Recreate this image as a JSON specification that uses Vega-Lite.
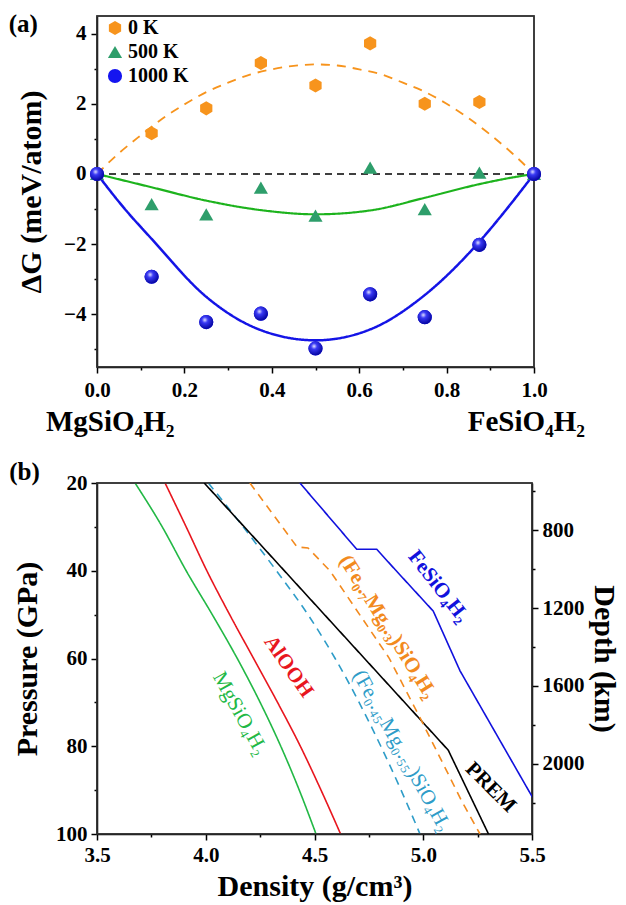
{
  "$schema": "https://vega.github.io/schema/vega-lite/v6.json",
  "padding": {"left": 7, "top": 10, "right": 5, "bottom": 3},
  "spacing": 21,
  "resolve": {"scale": {"color": "independent", "stroke": "independent", "strokeDash": "independent", "strokeWidth": "independent", "shape": "independent"}, "legend": {"color": "independent", "shape": "independent"}},
  "config": {
    "font": "Liberation Serif",
    "view": {"stroke": "#333333", "strokeWidth": 1.5},
    "axis": {
      "grid": false, "domainColor": "#000000", "domainWidth": 1.5, "tickColor": "#000000", "tickWidth": 1.5,
      "labelFont": "Liberation Serif", "labelFontWeight": "bold", "labelFontSize": 21, "labelColor": "#000000",
      "titleFont": "Liberation Serif", "titleFontWeight": "bold", "titleFontSize": 30, "titleColor": "#000000"
    }
  },
  "vconcat": [
    {
      "width": 437,
      "height": 351,
      "resolve": {"axis": {"x": "independent", "y": "independent"}},
      "layer": [
        {
          "data": {"values": [
            {"x": 0, "dG": 0, "T": "ref"}, {"x": 1, "dG": 0, "T": "ref"},
            {"x": 0, "dG": 0, "T": "0 K"}, {"x": 0.05, "dG": 0.59, "T": "0 K"}, {"x": 0.1, "dG": 1.1, "T": "0 K"}, {"x": 0.15, "dG": 1.58, "T": "0 K"}, {"x": 0.2, "dG": 1.98, "T": "0 K"}, {"x": 0.25, "dG": 2.33, "T": "0 K"}, {"x": 0.3, "dG": 2.6, "T": "0 K"}, {"x": 0.35, "dG": 2.83, "T": "0 K"}, {"x": 0.4, "dG": 2.98, "T": "0 K"}, {"x": 0.45, "dG": 3.08, "T": "0 K"}, {"x": 0.5, "dG": 3.12, "T": "0 K"}, {"x": 0.55, "dG": 3.09, "T": "0 K"}, {"x": 0.6, "dG": 2.98, "T": "0 K"}, {"x": 0.65, "dG": 2.84, "T": "0 K"}, {"x": 0.7, "dG": 2.6, "T": "0 K"}, {"x": 0.75, "dG": 2.34, "T": "0 K"}, {"x": 0.8, "dG": 2.0, "T": "0 K"}, {"x": 0.85, "dG": 1.59, "T": "0 K"}, {"x": 0.9, "dG": 1.12, "T": "0 K"}, {"x": 0.95, "dG": 0.59, "T": "0 K"}, {"x": 1.0, "dG": 0, "T": "0 K"},
            {"x": 0, "dG": 0, "T": "500 K"}, {"x": 0.0625, "dG": -0.19, "T": "500 K"}, {"x": 0.125, "dG": -0.38, "T": "500 K"}, {"x": 0.25, "dG": -0.76, "T": "500 K"}, {"x": 0.375, "dG": -1.03, "T": "500 K"}, {"x": 0.5, "dG": -1.15, "T": "500 K"}, {"x": 0.625, "dG": -1.04, "T": "500 K"}, {"x": 0.75, "dG": -0.68, "T": "500 K"}, {"x": 0.875, "dG": -0.29, "T": "500 K"}, {"x": 0.9375, "dG": -0.13, "T": "500 K"}, {"x": 1.0, "dG": 0, "T": "500 K"},
            {"x": 0, "dG": 0, "T": "1000 K"}, {"x": 0.0625, "dG": -0.98, "T": "1000 K"}, {"x": 0.125, "dG": -1.85, "T": "1000 K"}, {"x": 0.25, "dG": -3.5, "T": "1000 K"}, {"x": 0.375, "dG": -4.45, "T": "1000 K"}, {"x": 0.5, "dG": -4.74, "T": "1000 K"}, {"x": 0.625, "dG": -4.43, "T": "1000 K"}, {"x": 0.75, "dG": -3.45, "T": "1000 K"}, {"x": 0.875, "dG": -1.93, "T": "1000 K"}, {"x": 0.9375, "dG": -1.0, "T": "1000 K"}, {"x": 1.0, "dG": 0, "T": "1000 K"}
          ]},
          "mark": {"type": "line", "interpolate": "monotone"},
          "encoding": {
            "x": {
              "field": "x", "type": "quantitative", "title": null,
              "scale": {"domain": [0, 1], "nice": false},
              "axis": {
                "values": [0, 0.1, 0.2, 0.3, 0.4, 0.5, 0.6, 0.7, 0.8, 0.9, 1.0],
                "format": ".1f",
                "labelExpr": "abs(datum.value*5 - round(datum.value*5)) < 0.001 ? datum.label : ''",
                "tickSize": {"condition": {"test": "abs(datum.value*5 - round(datum.value*5)) < 0.001", "value": 6}, "value": 3},
                "labels": true, "labelPadding": 6, "labelFlush": false, "labelOverlap": false
              }
            },
            "y": {
              "field": "dG", "type": "quantitative", "title": "ΔG (meV/atom)",
              "scale": {"domain": [-5.5, 4.5], "nice": false},
              "axis": {
                "values": [-5, -4, -3, -2, -1, 0, 1, 2, 3, 4],
                "format": "d",
                "labelExpr": "abs(datum.value % 2) < 0.001 ? datum.label : ''",
                "tickSize": {"condition": {"test": "abs(datum.value % 2) < 0.001", "value": 6}, "value": 3},
                "labels": true, "labelPadding": 5, "titleX": -51, "labelOverlap": false
              }
            },
            "detail": {"field": "T"},
            "stroke": {"field": "T", "type": "nominal", "legend": null, "scale": {"domain": ["ref", "0 K", "500 K", "1000 K"], "range": ["#000000", "#F7941D", "#1DB31D", "#1414E6"]}},
            "strokeDash": {"field": "T", "type": "nominal", "legend": null, "scale": {"domain": ["ref", "0 K", "500 K", "1000 K"], "range": [[7, 5], [9, 7], [1, 0], [1, 0]]}},
            "strokeWidth": {"field": "T", "type": "nominal", "legend": null, "scale": {"domain": ["ref", "0 K", "500 K", "1000 K"], "range": [1.5, 2.5, 2.5, 2.5]}}
          }
        },
        {
          "data": {"values": [{}]},
          "mark": {"type": "rect", "fill": "#ffffff", "fillOpacity": 0, "stroke": "#333333", "strokeWidth": 1.5},
          "encoding": {
            "x": {"datum": 0, "type": "quantitative", "axis": null},
            "x2": {"datum": 1},
            "y": {"datum": -5.5, "type": "quantitative", "axis": null},
            "y2": {"datum": 4.5}
          }
        },
        {
          "data": {"name": "pts"},
          "mark": {"type": "point", "filled": true, "opacity": 1, "size": 200},
          "encoding": {
            "x": {"field": "x", "type": "quantitative", "axis": null},
            "y": {"field": "dG", "type": "quantitative", "axis": null},
            "shape": {"field": "T", "type": "nominal", "scale": {"domain": ["0 K", "500 K", "1000 K"], "range": ["M0,-1L0.866,-0.5L0.866,0.5L0,1L-0.866,0.5L-0.866,-0.5Z", "triangle-up", "circle"]},
              "legend": {"orient": "top-left", "offset": 2, "padding": 0, "title": null, "labelFontSize": 20, "labelFontWeight": "bold", "labelFont": "Liberation Serif", "labelColor": "#000000", "symbolSize": 200, "rowPadding": 4, "labelOffset": 3, "symbolOffset": 6}},
            "color": {"field": "T", "type": "nominal", "scale": {"domain": ["0 K", "500 K", "1000 K"], "range": ["#F7941D", "#2E9E6B", "#1515F0"]},
              "legend": {"orient": "top-left", "offset": 2, "padding": 0, "title": null, "labelFontSize": 20, "labelFontWeight": "bold", "labelFont": "Liberation Serif", "labelColor": "#000000", "symbolSize": 200, "rowPadding": 4, "labelOffset": 3, "symbolOffset": 6}}
          }
        },
        {
          "data": {"name": "pts"},
          "transform": [{"filter": "datum.T == '1000 K'"}],
          "mark": {"type": "point", "filled": true, "opacity": 1, "size": 200, "shape": "circle",
            "fill": {"gradient": "radial", "x1": 0.4, "y1": 0.35, "x2": 0.4, "y2": 0.35, "r1": 0, "r2": 0.6, "stops": [{"offset": 0, "color": "#E8E8FF"}, {"offset": 0.35, "color": "#3A3AF5"}, {"offset": 1, "color": "#0A0AA8"}]}},
          "encoding": {
            "x": {"field": "x", "type": "quantitative", "axis": null},
            "y": {"field": "dG", "type": "quantitative", "axis": null}
          }
        },
        {
          "data": {"values": [{"x": 0, "name": "MgSiO₄H₂"}]},
          "mark": {"type": "text", "fontSize": 29, "fontWeight": "bold", "font": "Liberation Serif", "baseline": "top", "align": "left", "dx": -51, "dy": 41, "color": "#000000"},
          "encoding": {
            "x": {"field": "x", "type": "quantitative", "axis": null},
            "y": {"datum": -5.5, "axis": null},
            "text": {"field": "name"}
          }
        },
        {
          "data": {"values": [{"x": 1, "name": "FeSiO₄H₂"}]},
          "mark": {"type": "text", "fontSize": 29, "fontWeight": "bold", "font": "Liberation Serif", "baseline": "top", "align": "right", "dx": 51, "dy": 41, "color": "#000000"},
          "encoding": {
            "x": {"field": "x", "type": "quantitative", "axis": null},
            "y": {"datum": -5.5, "axis": null},
            "text": {"field": "name"}
          }
        },
        {
          "data": {"values": [{"tag": "(a)"}]},
          "mark": {"type": "text", "fontSize": 25, "fontWeight": "bold", "font": "Liberation Serif", "align": "center", "baseline": "middle", "color": "#000000"},
          "encoding": {
            "x": {"datum": -0.1686, "axis": null},
            "y": {"datum": 4.28, "axis": null},
            "text": {"field": "tag"}
          }
        }
      ]
    },
    {
      "width": 435,
      "height": 351,
      "layer": [
        {
          "resolve": {"axis": {"x": "independent"}},
          "layer": [
            {
              "data": {"name": "pb"},
              "transform": [{"filter": "datum.s == 'MgSiO4H2' || datum.s == 'AlOOH' || datum.s == 'Fe45'"}],
              "mark": {"type": "line", "strokeWidth": 1.6, "clip": true, "interpolate": "monotone"},
              "encoding": {
                "x": {
                  "field": "d", "type": "quantitative", "title": "Density (g/cm³)",
                  "scale": {"domain": [3.5, 5.5], "nice": false},
                  "axis": {
                    "values": [3.5, 3.75, 4.0, 4.25, 4.5, 4.75, 5.0, 5.25, 5.5],
                    "format": ".1f",
                    "labelExpr": "abs(datum.value*2 - round(datum.value*2)) < 0.001 ? datum.label : ''",
                    "tickSize": {"condition": {"test": "abs(datum.value*2 - round(datum.value*2)) < 0.001", "value": 6}, "value": 3},
                    "labelPadding": 4, "titlePadding": 6, "labelOverlap": false, "labelFlush": false
                  }
                },
                "y": {
                  "field": "p", "type": "quantitative", "title": "Pressure (GPa)",
                  "scale": {"domain": [20, 100], "nice": false, "reverse": true},
                  "axis": {
                    "values": [20, 30, 40, 50, 60, 70, 80, 90, 100],
                    "labelExpr": "datum.value % 20 == 0 ? datum.label : ''",
                    "tickSize": {"condition": {"test": "datum.value % 20 == 0", "value": 6}, "value": 3},
                    "labelPadding": 4, "titleX": -55, "labelOverlap": false
                  }
                },
                "order": {"field": "p", "type": "quantitative"},
                "stroke": {"field": "s", "type": "nominal", "legend": null, "scale": {"domain": ["MgSiO4H2", "AlOOH", "PREM", "Fe45", "Fe70", "FeSiO4H2"], "range": ["#22B845", "#E8161E", "#000000", "#2E9CC8", "#F28A1E", "#1111DD"]}},
                "strokeDash": {"field": "s", "type": "nominal", "legend": null, "scale": {"domain": ["MgSiO4H2", "AlOOH", "PREM", "Fe45", "Fe70", "FeSiO4H2"], "range": [[1, 0], [1, 0], [1, 0], [8, 6], [8, 6], [1, 0]]}}
              }
            },
            {
              "data": {"values": [{}]},
              "mark": {"type": "rect", "fill": "#ffffff", "fillOpacity": 0, "stroke": "#333333", "strokeWidth": 1.5},
              "encoding": {
                "x": {"datum": 3.5, "type": "quantitative", "axis": null},
                "x2": {"datum": 5.5},
                "y": {"datum": 20, "type": "quantitative"},
                "y2": {"datum": 100}
              }
            },
            {
              "data": {"name": "pb"},
              "transform": [{"filter": "datum.s == 'PREM' || datum.s == 'Fe70' || datum.s == 'FeSiO4H2'"}],
              "mark": {"type": "line", "strokeWidth": 1.6, "clip": true},
              "encoding": {
                "x": {"field": "d", "type": "quantitative", "axis": null},
                "y": {"field": "p", "type": "quantitative"},
                "order": {"field": "p", "type": "quantitative"},
                "stroke": {"field": "s", "type": "nominal", "legend": null, "scale": {"domain": ["MgSiO4H2", "AlOOH", "PREM", "Fe45", "Fe70", "FeSiO4H2"], "range": ["#22B845", "#E8161E", "#000000", "#2E9CC8", "#F28A1E", "#1111DD"]}},
                "strokeDash": {"field": "s", "type": "nominal", "legend": null, "scale": {"domain": ["MgSiO4H2", "AlOOH", "PREM", "Fe45", "Fe70", "FeSiO4H2"], "range": [[1, 0], [1, 0], [1, 0], [8, 6], [8, 6], [1, 0]]}}
              }
            },
            {
              "data": {"values": [
                {"d": 4.157, "p": 72.6, "label": "MgSiO₄H₂", "s": "MgSiO4H2"},
                {"d": 4.901, "p": 81.1, "label": "(Fe₀.₄₅Mg₀.₅₅)SiO₄H₂", "s": "Fe45"}
              ]},
              "mark": {"type": "text", "fontSize": 21, "font": "Liberation Serif", "angle": 61, "align": "center", "baseline": "middle"},
              "encoding": {
                "x": {"field": "d", "type": "quantitative", "axis": null},
                "y": {"field": "p", "type": "quantitative"},
                "text": {"field": "label"},
                "color": {"field": "s", "type": "nominal", "legend": null, "scale": {"domain": ["MgSiO4H2", "AlOOH", "PREM", "Fe45", "Fe70", "FeSiO4H2"], "range": ["#22B845", "#E8161E", "#000000", "#2E9CC8", "#F28A1E", "#1111DD"]}}
              }
            },
            {
              "data": {"values": [
                {"d": 4.38, "p": 61.9, "label": "AlOOH", "s": "AlOOH", "a": 55},
                {"d": 4.836, "p": 52.8, "label": "(Fe₀.₇Mg₀.₃)SiO₄H₂", "s": "Fe70", "a": 58},
                {"d": 5.069, "p": 43.6, "label": "FeSiO₄H₂", "s": "FeSiO4H2", "a": 52},
                {"d": 5.31, "p": 89.4, "label": "PREM", "s": "PREM", "a": 45}
              ]},
              "mark": {"type": "text", "fontSize": 21, "fontWeight": "bold", "font": "Liberation Serif", "align": "center", "baseline": "middle"},
              "encoding": {
                "x": {"field": "d", "type": "quantitative", "axis": null},
                "y": {"field": "p", "type": "quantitative"},
                "text": {"field": "label"},
                "angle": {"field": "a", "type": "quantitative", "scale": null},
                "color": {"field": "s", "type": "nominal", "legend": null, "scale": {"domain": ["MgSiO4H2", "AlOOH", "PREM", "Fe45", "Fe70", "FeSiO4H2"], "range": ["#22B845", "#E8161E", "#000000", "#2E9CC8", "#F28A1E", "#1111DD"]}}
              }
            },
            {
              "data": {"values": [{"tag": "(b)"}]},
              "mark": {"type": "text", "fontSize": 25, "fontWeight": "bold", "font": "Liberation Serif", "align": "center", "baseline": "middle", "color": "#000000"},
              "encoding": {
                "x": {"datum": 3.167, "axis": null},
                "y": {"datum": 17.54},
                "text": {"field": "tag"}
              }
            }
          ]
        },
        {
          "data": {"values": [{"depth": 557}, {"depth": 2361}]},
          "mark": {"type": "rule", "opacity": 0},
          "encoding": {
            "y": {
              "field": "depth", "type": "quantitative", "title": "Depth (km)",
              "scale": {"domain": [557, 2361], "nice": false, "zero": false, "reverse": true},
              "axis": {
                "orient": "right",
                "values": [600, 800, 1000, 1200, 1400, 1600, 1800, 2000, 2200],
                "labelExpr": "datum.value % 400 == 0 ? datum.label : ''",
                "format": "d",
                "tickSize": {"condition": {"test": "datum.value % 400 == 0", "value": 6}, "value": 3},
                "labelPadding": 4, "labelOverlap": false
              }
            }
          }
        }
      ],
      "resolve": {"scale": {"y": "independent"}}
    }
  ],
  "datasets": {
    "pts": [
      {"x": 0, "dG": 0, "T": "0 K"}, {"x": 0.125, "dG": 1.16, "T": "0 K"}, {"x": 0.25, "dG": 1.87, "T": "0 K"}, {"x": 0.375, "dG": 3.16, "T": "0 K"}, {"x": 0.5, "dG": 2.52, "T": "0 K"}, {"x": 0.625, "dG": 3.72, "T": "0 K"}, {"x": 0.75, "dG": 2.0, "T": "0 K"}, {"x": 0.875, "dG": 2.05, "T": "0 K"}, {"x": 1.0, "dG": 0, "T": "0 K"},
      {"x": 0, "dG": 0, "T": "500 K"}, {"x": 0.125, "dG": -0.86, "T": "500 K"}, {"x": 0.25, "dG": -1.15, "T": "500 K"}, {"x": 0.375, "dG": -0.39, "T": "500 K"}, {"x": 0.5, "dG": -1.19, "T": "500 K"}, {"x": 0.625, "dG": 0.18, "T": "500 K"}, {"x": 0.75, "dG": -1.0, "T": "500 K"}, {"x": 0.875, "dG": 0.04, "T": "500 K"}, {"x": 1.0, "dG": 0, "T": "500 K"},
      {"x": 0, "dG": 0, "T": "1000 K"}, {"x": 0.125, "dG": -2.93, "T": "1000 K"}, {"x": 0.25, "dG": -4.22, "T": "1000 K"}, {"x": 0.375, "dG": -3.98, "T": "1000 K"}, {"x": 0.5, "dG": -4.97, "T": "1000 K"}, {"x": 0.625, "dG": -3.43, "T": "1000 K"}, {"x": 0.75, "dG": -4.08, "T": "1000 K"}, {"x": 0.875, "dG": -2.02, "T": "1000 K"}, {"x": 1.0, "dG": 0, "T": "1000 K"}
    ],
    "pb": [
      {"s": "MgSiO4H2", "d": 3.675, "p": 20}, {"s": "MgSiO4H2", "d": 3.8, "p": 30}, {"s": "MgSiO4H2", "d": 3.91, "p": 40}, {"s": "MgSiO4H2", "d": 4.03, "p": 50}, {"s": "MgSiO4H2", "d": 4.145, "p": 60}, {"s": "MgSiO4H2", "d": 4.25, "p": 70}, {"s": "MgSiO4H2", "d": 4.345, "p": 80}, {"s": "MgSiO4H2", "d": 4.43, "p": 90}, {"s": "MgSiO4H2", "d": 4.507, "p": 100},
      {"s": "AlOOH", "d": 3.813, "p": 20}, {"s": "AlOOH", "d": 3.91, "p": 30}, {"s": "AlOOH", "d": 4.005, "p": 40}, {"s": "AlOOH", "d": 4.11, "p": 50}, {"s": "AlOOH", "d": 4.22, "p": 60}, {"s": "AlOOH", "d": 4.33, "p": 70}, {"s": "AlOOH", "d": 4.435, "p": 80}, {"s": "AlOOH", "d": 4.53, "p": 90}, {"s": "AlOOH", "d": 4.62, "p": 100},
      {"s": "PREM", "d": 3.993, "p": 20}, {"s": "PREM", "d": 5.115, "p": 80.9}, {"s": "PREM", "d": 5.3, "p": 100},
      {"s": "Fe45", "d": 4.012, "p": 20}, {"s": "Fe45", "d": 4.172, "p": 30}, {"s": "Fe45", "d": 4.325, "p": 40}, {"s": "Fe45", "d": 4.47, "p": 50}, {"s": "Fe45", "d": 4.595, "p": 60}, {"s": "Fe45", "d": 4.705, "p": 70}, {"s": "Fe45", "d": 4.805, "p": 80}, {"s": "Fe45", "d": 4.898, "p": 90}, {"s": "Fe45", "d": 4.985, "p": 100},
      {"s": "Fe70", "d": 4.203, "p": 20}, {"s": "Fe70", "d": 4.42, "p": 34.6}, {"s": "Fe70", "d": 4.47, "p": 34.8}, {"s": "Fe70", "d": 4.571, "p": 40}, {"s": "Fe70", "d": 4.843, "p": 59.9}, {"s": "Fe70", "d": 4.985, "p": 73.5}, {"s": "Fe70", "d": 5.062, "p": 81.1}, {"s": "Fe70", "d": 5.177, "p": 92.5}, {"s": "Fe70", "d": 5.261, "p": 100},
      {"s": "FeSiO4H2", "d": 4.433, "p": 20}, {"s": "FeSiO4H2", "d": 4.694, "p": 35.1}, {"s": "FeSiO4H2", "d": 4.786, "p": 35.1}, {"s": "FeSiO4H2", "d": 4.87, "p": 39.7}, {"s": "FeSiO4H2", "d": 5.046, "p": 49.2}, {"s": "FeSiO4H2", "d": 5.169, "p": 62.8}, {"s": "FeSiO4H2", "d": 5.503, "p": 91.7}
    ]
  }
}
